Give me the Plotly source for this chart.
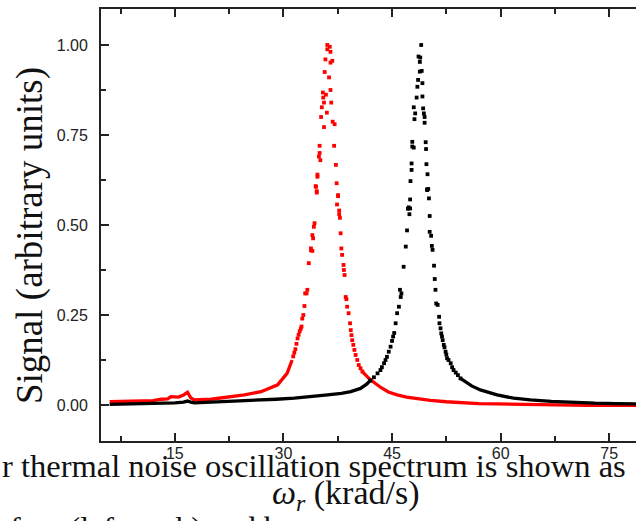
import plotly.graph_objects as go

# ---- data ----
# low, densely sampled parts of each spectrum (drawn as a thick trace); None splits the two flanks
red_line_x = [6.0, 8.0, 10.0, 12.0, 13.1, 14.0, 14.45, 15.5, 16.2, 16.75, 17.2, 17.7, 20.0, 22.3,
              24.6, 26.9, 29.2, 30.5, 31.0, 31.2,
              None,
              40.9, 41.35, 41.8, 42.3, 42.8, 43.5, 44.5, 45.7, 47.0, 48.5, 50.3, 52.5, 54.9,
              57.0, 59.5, 62.0, 64.1, 68.0, 72.0, 76.0, 79.0]
red_line_y = [0.009, 0.010, 0.011, 0.012, 0.016, 0.017, 0.023, 0.022, 0.028, 0.035, 0.020, 0.014,
              0.016, 0.021, 0.028, 0.037, 0.056, 0.088, 0.116, 0.125,
              None,
              0.093, 0.083, 0.074, 0.066, 0.058, 0.048, 0.036, 0.028, 0.022, 0.017, 0.013, 0.009,
              0.006, 0.004, 0.003, 0.002, 0.001, 0.0, -0.001, -0.001, -0.001]

black_line_x = [6.0, 9.0, 12.0, 13.1, 15.0, 16.2, 16.75, 17.2, 17.7, 20.0, 23.0, 26.9, 29.0, 31.5,
                34.0, 36.1, 38.0, 39.3, 40.65, 41.5, 42.0,
                None,
                54.45, 55.0, 56.0, 57.2, 58.5, 59.5, 61.8, 64.1, 67.0, 70.0, 73.0, 76.0, 79.0]
black_line_y = [0.002, 0.003, 0.004, 0.005, 0.006, 0.008, 0.011, 0.008, 0.006, 0.008, 0.010,
                0.014, 0.016, 0.019, 0.023, 0.028, 0.032, 0.037, 0.046, 0.058, 0.068,
                None,
                0.074, 0.066, 0.053, 0.042, 0.033, 0.028, 0.019, 0.014, 0.010, 0.007, 0.005,
                0.004, 0.003]

# sparse points around each resonance
red_dot_x = [31.35, 31.5, 31.65, 31.8, 31.95, 32.1, 32.25, 32.4, 32.5, 32.6, 32.75, 32.9, 33.0,
             33.2, 33.3, 33.5, 33.8, 33.8, 34.0, 34.0, 34.1, 34.2, 34.3, 34.45, 34.5, 34.6, 34.6,
             34.7, 34.7, 34.9, 35.0, 35.0, 35.1, 35.2, 35.3, 35.45, 35.5, 35.6, 35.6, 35.7, 35.8,
             35.87, 36.0, 36.06, 36.06, 36.3, 36.4, 36.5, 36.5, 36.5, 36.6, 36.75, 36.8, 37.0,
             37.07, 37.25, 37.35, 37.4, 37.55, 37.55, 37.7, 37.7, 37.8, 37.9, 38.0, 38.1, 38.3,
             38.35, 38.45, 38.6, 38.7, 38.8, 39.0, 39.2, 39.3, 39.4, 39.5, 39.65, 39.8, 39.97,
             40.2, 40.4, 40.65, 40.9]
red_dot_y = [0.135, 0.145, 0.155, 0.17, 0.185, 0.195, 0.205, 0.212, 0.218, 0.24, 0.25, 0.275,
             0.31, 0.31, 0.32, 0.394, 0.435, 0.43, 0.428, 0.472, 0.463, 0.495, 0.505, 0.608,
             0.606, 0.594, 0.59, 0.64, 0.634, 0.69, 0.72, 0.70, 0.68, 0.80, 0.827, 0.868, 0.854,
             0.84, 0.772, 0.925, 0.96, 0.862, 0.812, 1.0, 0.988, 0.91, 0.995, 0.981, 0.951,
             0.875, 0.84, 0.956, 0.787, 0.72, 0.78, 0.667, 0.616, 0.557, 0.58, 0.583, 0.54,
             0.53, 0.52, 0.477, 0.435, 0.417, 0.389, 0.375, 0.361, 0.30, 0.294, 0.273, 0.255,
             0.227, 0.208, 0.194, 0.18, 0.167, 0.153, 0.139, 0.125, 0.111, 0.102, 0.093]

black_dot_x = [42.0, 42.5, 43.0, 43.4, 43.6, 43.9, 44.1, 44.3, 44.55, 44.8, 45.0, 45.15, 45.3,
               45.5, 45.7, 45.95, 46.1, 46.2, 46.3, 46.6, 46.9, 47.07, 47.2, 47.3, 47.4, 47.5,
               47.5, 47.55, 47.7, 47.7, 47.8, 47.8, 48.0, 48.0, 48.1, 48.2, 48.4, 48.5, 48.6,
               48.66, 48.84, 48.84, 48.9, 49.03, 49.1, 49.2, 49.2, 49.3, 49.4, 49.5, 49.5, 49.65,
               49.7, 49.75, 49.85, 49.85, 49.9, 50.0, 50.1, 50.2, 50.2, 50.4, 50.5, 50.6, 50.8,
               50.9, 51.0, 51.1, 51.3, 51.5, 51.55, 51.7, 51.8, 51.9, 52.0, 52.15, 52.25, 52.4,
               52.5, 52.6, 52.8, 53.1, 53.3, 53.5, 53.8, 54.1, 54.45]
black_dot_y = [0.068, 0.077, 0.088, 0.097, 0.105, 0.116, 0.125, 0.134, 0.148, 0.162, 0.178,
               0.19, 0.2, 0.227, 0.255, 0.273, 0.32, 0.30, 0.31, 0.384, 0.44, 0.485, 0.545,
               0.549, 0.53, 0.546, 0.571, 0.622, 0.653, 0.671, 0.718, 0.731, 0.715, 0.827, 0.794,
               0.81, 0.854, 0.884, 0.903, 0.968, 0.953, 0.926, 0.965, 1.0, 0.928, 0.894, 0.857,
               0.824, 0.81, 0.80, 0.784, 0.73, 0.711, 0.669, 0.599, 0.597, 0.641, 0.60, 0.574,
               0.525, 0.481, 0.47, 0.442, 0.431, 0.387, 0.35, 0.32, 0.282, 0.278, 0.245, 0.227,
               0.213, 0.199, 0.19, 0.18, 0.167, 0.16, 0.148, 0.14, 0.13, 0.125, 0.116, 0.105,
               0.097, 0.09, 0.083, 0.074]

y_ticks = [0.0, 0.25, 0.5, 0.75, 1.0]
y_tick_labels = ["0.00", "0.25", "0.50", "0.75", "1.00"]
x_ticks = [15, 30, 45, 60, 75]

caption_top = "r thermal noise oscillation spectrum is shown as"
caption_bottom = "fom (left peak) and b"
x_title = "<i>ω</i><sub><i>r</i></sub> (krad/s)"
y_title = "Signal (arbitrary units)"

RED = "#ff0000"
BLACK = "#000000"

fig = go.Figure()
for lx, ly, dx, dy, col in [(red_line_x, red_line_y, red_dot_x, red_dot_y, RED),
                            (black_line_x, black_line_y, black_dot_x, black_dot_y, BLACK)]:
    fig.add_trace(go.Scatter(x=lx, y=ly, mode="lines", line=dict(color=col, width=3.3),
                             connectgaps=False, hoverinfo="skip"))
    fig.add_trace(go.Scatter(x=dx, y=dy, mode="markers",
                             marker=dict(color=col, size=3.8, symbol="square", line=dict(width=0))))

W, H = 636, 521
L, T, B = 101, 9, 80
pw, ph = W - L, H - T - B


def px(xp):
    return (xp - L) / pw


def py(yp):
    return (H - B - yp) / ph


axis_col = "#222222"
tick_font = dict(family="Liberation Sans, Arial, sans-serif", size=16, color="#222222")
serif = "Liberation Serif, Times New Roman, serif"

fig.update_layout(
    width=W, height=H, margin=dict(l=L, r=0, t=T, b=B),
    paper_bgcolor="white", plot_bgcolor="white", showlegend=False,
    xaxis=dict(range=[4.8, 78.7], tickmode="array", tickvals=x_ticks,
               ticks="inside", ticklen=8, tickwidth=1.5, tickcolor=axis_col,
               showline=True, linecolor=axis_col, linewidth=1.8, mirror="ticks",
               showgrid=False, zeroline=False, tickfont=tick_font, ticklabelstandoff=-3,
               minor=dict(tickvals=[7.5, 22.5, 37.5, 52.5, 67.5], ticks="inside",
                          ticklen=5, tickwidth=1.5, tickcolor=axis_col)),
    yaxis=dict(range=[-0.1, 1.1], tickmode="array", tickvals=y_ticks, ticktext=y_tick_labels,
               ticks="inside", ticklen=8, tickwidth=1.5, tickcolor=axis_col,
               showline=True, linecolor=axis_col, linewidth=1.8, mirror=False,
               showgrid=False, zeroline=False, tickfont=tick_font, ticklabelstandoff=8,
               minor=dict(tickvals=[0.125, 0.375, 0.625, 0.875], ticks="inside",
                          ticklen=5, tickwidth=1.5, tickcolor=axis_col)),
)

annots = [
    dict(text=caption_top, x=px(0), y=py(466), xanchor="left", yanchor="middle",
         font=dict(family=serif, size=32.5, color="#111111")),
    dict(text=x_title, x=px(346), y=py(495), xanchor="center", yanchor="middle",
         font=dict(family=serif, size=34, color="#111111")),
    dict(text=caption_bottom, x=px(8), y=py(528), xanchor="left", yanchor="middle",
         font=dict(family=serif, size=32, color="#111111")),
    dict(text=y_title, x=px(30), y=py(236), xanchor="center", yanchor="middle", textangle=-90,
         font=dict(family=serif, size=37, color="#111111")),
]
for a in annots:
    fig.add_annotation(xref="paper", yref="paper", showarrow=False, **a)

fig.write_html("out.html",
               config={"displayModeBar": False},
               post_script="document.body.style.margin='0px';"
                           "document.body.style.overflow='hidden';")
